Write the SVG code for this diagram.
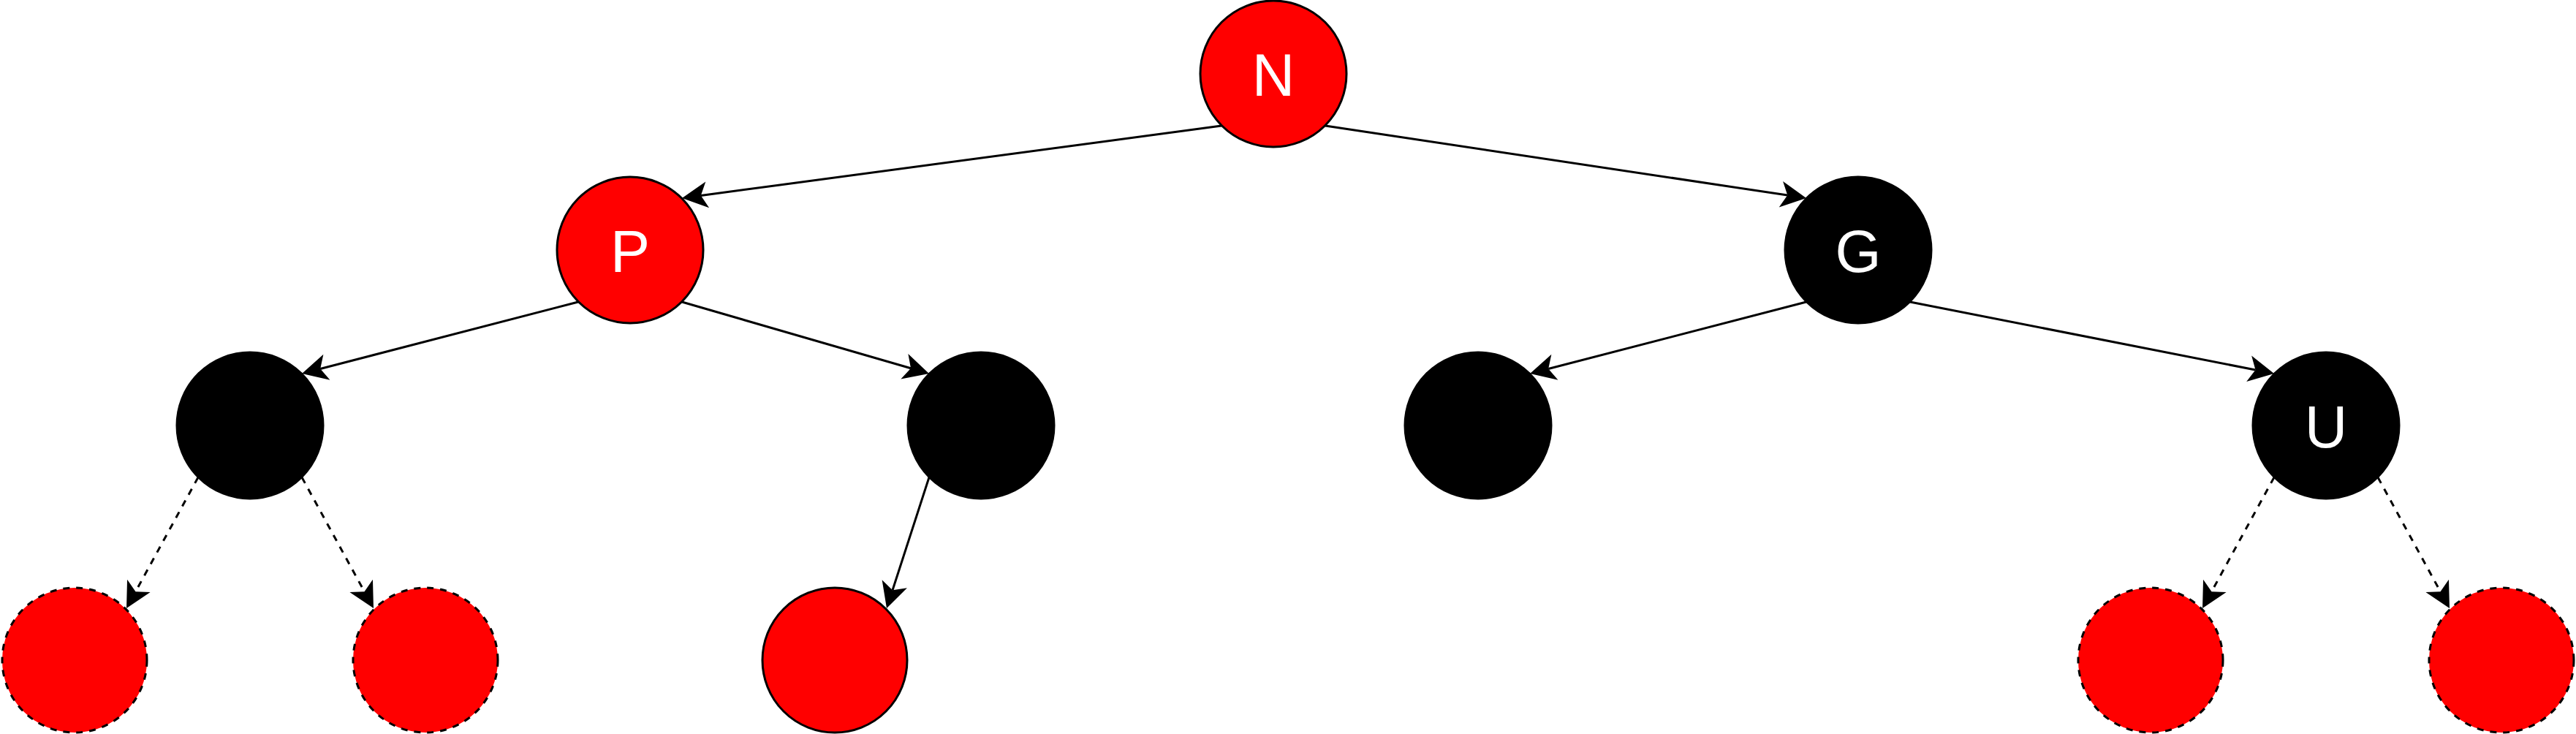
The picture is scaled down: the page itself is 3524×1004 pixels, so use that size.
<svg xmlns="http://www.w3.org/2000/svg" width="3524" height="1004" viewBox="0 0 3524 1004">
<style>
.red{fill:#ff0000;stroke:#000;stroke-width:3}
.blk{fill:#000;stroke:#000;stroke-width:3}
.dash{fill:#ff0000;stroke:#000;stroke-width:3;stroke-dasharray:9 9}
.lbl{font-family:"Liberation Sans",Arial,sans-serif;font-size:81px;fill:#fff;text-anchor:middle}
.e{fill:none;stroke:#000;stroke-width:3;marker-end:url(#arr)}
.ed{fill:none;stroke:#000;stroke-width:3;stroke-dasharray:9 9;marker-end:url(#arr)}
</style>
<defs>
<marker id="arr" markerUnits="userSpaceOnUse" refX="0" refY="0" markerWidth="80" markerHeight="80" orient="auto" overflow="visible">
<path d="M26,0 L-9,-18 L0,0 L-9,18 Z" fill="#000" stroke="none"/>
</marker>
</defs>
<rect width="3524" height="1004" fill="#fff"/>
<g id="connectors">
<path class="e" d="M1671,172 L958.8,267.5"/>
<path class="e" d="M1813,172 L2445.3,267.1"/>
<path class="e" d="M791,413 L438.2,504.5"/>
<path class="e" d="M933,413 L1246,503.8"/>
<path class="e" d="M2471,413 L2118.2,504.5"/>
<path class="e" d="M2613,413 L3085.5,506"/>
<path class="ed" d="M271,653 L185.5,809.2"/>
<path class="ed" d="M413,653 L498.5,809.2"/>
<path class="e" d="M1271,653 L1221,807.3"/>
<path class="ed" d="M3111,653 L3025.5,809.2"/>
<path class="ed" d="M3253,653 L3338.5,809.2"/>
</g>
<g id="node-N"><circle class="red" cx="1742" cy="101" r="100"/><text class="lbl" x="1742" y="131">N</text></g>
<g id="node-P"><circle class="red" cx="862" cy="342" r="100"/><text class="lbl" x="862" y="372">P</text></g>
<g id="node-G"><circle class="blk" cx="2542" cy="342" r="100"/><text class="lbl" x="2542" y="372">G</text></g>
<g id="node-B1"><circle class="blk" cx="342" cy="582" r="100"/></g>
<g id="node-B2"><circle class="blk" cx="1342" cy="582" r="100"/></g>
<g id="node-B3"><circle class="blk" cx="2022" cy="582" r="100"/></g>
<g id="node-U"><circle class="blk" cx="3182" cy="582" r="100"/><text class="lbl" x="3182" y="612">U</text></g>
<g id="node-D1"><circle class="dash" cx="102" cy="903" r="99"/></g>
<g id="node-D2"><circle class="dash" cx="582" cy="903" r="99"/></g>
<g id="node-R3"><circle class="red" cx="1142" cy="903" r="99"/></g>
<g id="node-D4"><circle class="dash" cx="2942" cy="903" r="99"/></g>
<g id="node-D5"><circle class="dash" cx="3422" cy="903" r="99"/></g>
</svg>
